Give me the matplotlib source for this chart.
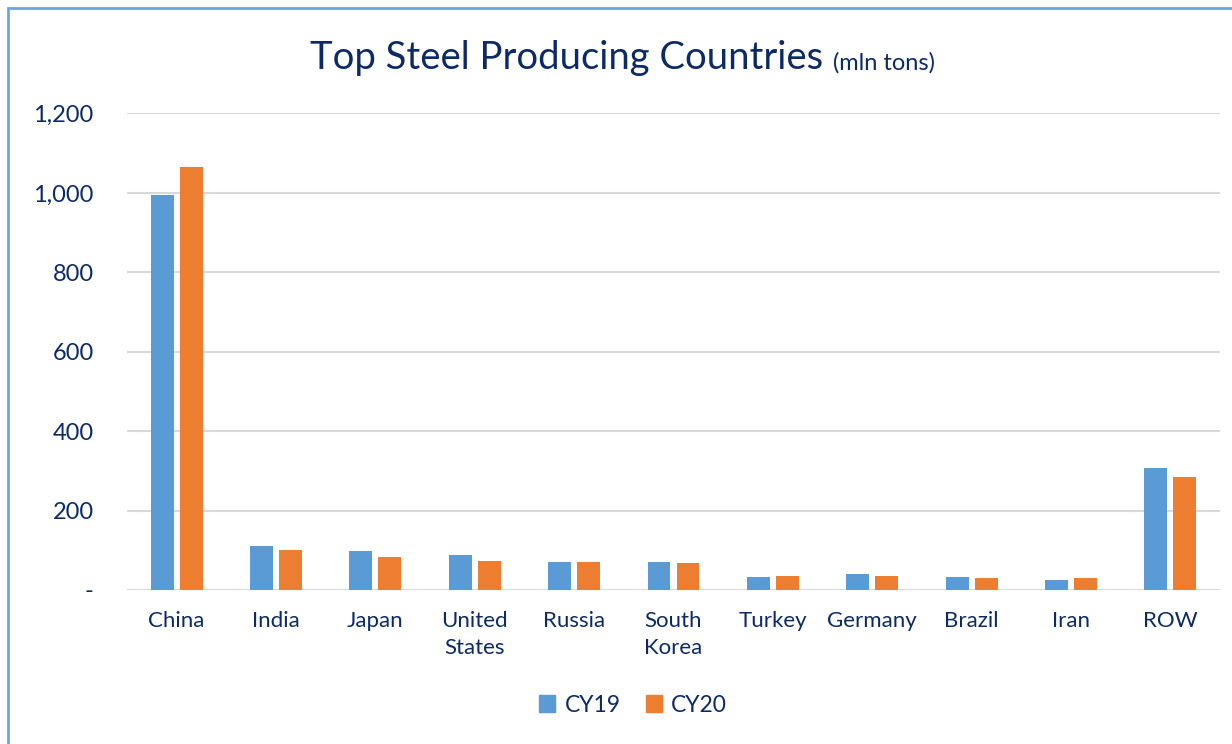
import numpy as np
import matplotlib
matplotlib.use("Agg")
import matplotlib.pyplot as plt
from matplotlib.patches import Rectangle, Patch
from matplotlib.ticker import FuncFormatter

countries = ["China", "India", "Japan", "United\nStates", "Russia", "South\nKorea",
             "Turkey", "Germany", "Brazil", "Iran", "ROW"]
cy19 = [996, 111, 99, 88, 71, 71, 33, 40, 32, 25, 306]
cy20 = [1065, 100, 83, 73, 71, 67, 35, 36, 30, 29, 285]
series_names = ["CY19", "CY20"]

BLUE = "#5B9BD5"
ORANGE = "#ED7D31"
NAVY = "#0B2A66"
GRID = "#D9D9D9"

plt.rcParams.update({
    "font.family": ["Lato", "DejaVu Sans"],
    "figure.facecolor": "white",
    "axes.facecolor": "white",
})

W, H = 1232, 744
fig = plt.figure(figsize=(W / 100, H / 100), dpi=100)
ax = fig.add_axes([127 / W, (H - 590) / H, (1220 - 127) / W, (590 - 113.5) / H])

x = np.arange(len(countries))
bw = 0.23
off = 0.146
ax.bar(x - off, cy19, bw, color=BLUE, zorder=3)
ax.bar(x + off, cy20, bw, color=ORANGE, zorder=3)

ax.set_xlim(-0.5, len(countries) - 0.5)
ax.set_ylim(0, 1200)
ax.set_yticks(np.arange(0, 1201, 200))
ax.yaxis.set_major_formatter(FuncFormatter(lambda v, p: "-" if v == 0 else f"{int(v):,}"))
ax.set_xticks(x)
ax.set_xticklabels(countries, fontsize=16, linespacing=1.45)
ax.tick_params(axis="both", length=0, colors=NAVY)
ax.tick_params(axis="x", pad=15)
ax.tick_params(axis="y", pad=24, labelsize=17)
ax.grid(axis="y", color=GRID, linewidth=1.5, zorder=0)
for s in ax.spines.values():
    s.set_visible(False)

# title in two sizes
t1 = fig.text(310 / W, (H - 58) / H, "Top Steel Producing Countries", fontsize=27.5,
              color=NAVY, ha="left", va="center")
fig.canvas.draw()
bb = t1.get_window_extent()
fig.text((bb.x1 + 10) / W, (bb.y0 + 6) / H, "(mln tons)", fontsize=17,
         color=NAVY, ha="left", va="baseline")

handles = [Patch(color=BLUE), Patch(color=ORANGE)]
fig.legend(handles, series_names, loc="center", bbox_to_anchor=(633 / W, (H - 705) / H),
           ncol=2, frameon=False, fontsize=16.5, labelcolor=NAVY, handlelength=0.7,
           handleheight=0.7, handletextpad=0.4, columnspacing=1.1)

# light blue frame (only top and left visible in the crop)
fig.patches.append(Rectangle((7.5 / W, -0.1), 1.2, (H - 7.5) / H + 0.1, transform=fig.transFigure,
                             fill=False, edgecolor="#6FA6DA", linewidth=2))

fig.savefig("out.png", dpi=100)
